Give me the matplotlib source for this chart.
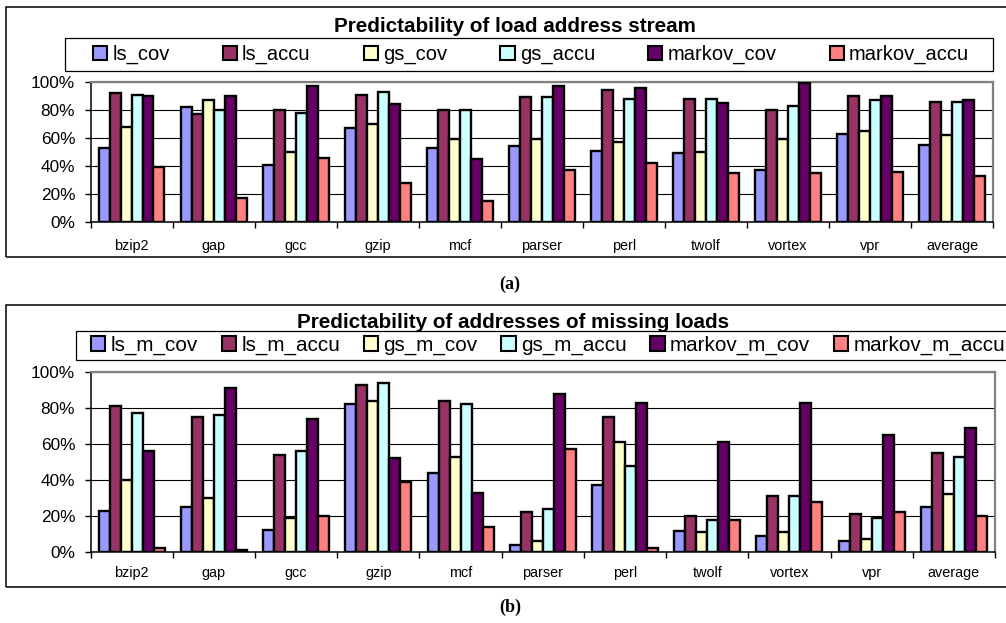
import matplotlib
matplotlib.use("Agg")
import matplotlib.pyplot as plt
from matplotlib.patches import Rectangle, Patch
import numpy as np

plt.rcParams['font.family'] = ['Liberation Sans', 'DejaVu Sans']

categories = ['bzip2', 'gap', 'gcc', 'gzip', 'mcf', 'parser', 'perl', 'twolf', 'vortex', 'vpr', 'average']

# (a) Predictability of load address stream (%)
ls_cov      = [53, 82, 41, 67, 53, 54, 51, 49, 37, 63, 55]
ls_accu     = [92, 77, 80, 91, 80, 89, 94, 88, 80, 90, 86]
gs_cov      = [68, 87, 50, 70, 59, 59, 57, 50, 59, 65, 62]
gs_accu     = [91, 80, 78, 93, 80, 89, 88, 88, 83, 87, 86]
markov_cov  = [90, 90, 97, 84, 45, 97, 96, 85, 99, 90, 87]
markov_accu = [39, 17, 46, 28, 15, 37, 42, 35, 35, 36, 33]
series_a_names = ['ls_cov', 'ls_accu', 'gs_cov', 'gs_accu', 'markov_cov', 'markov_accu']
series_a = [ls_cov, ls_accu, gs_cov, gs_accu, markov_cov, markov_accu]

# (b) Predictability of addresses of missing loads (%)
ls_m_cov      = [23, 25, 12, 82, 44, 4, 37, 11.5, 9, 6, 25]
ls_m_accu     = [81, 75, 54, 93, 84, 22, 75, 20, 31, 21, 55]
gs_m_cov      = [40, 30, 19, 84, 53, 6, 61, 11, 11, 7, 32]
gs_m_accu     = [77, 76, 56, 94, 82, 24, 48, 18, 31, 19, 53]
markov_m_cov  = [56, 91, 74, 52, 33, 88, 83, 61, 83, 65, 69]
markov_m_accu = [2, 1, 20, 39, 14, 57, 2, 18, 28, 22, 20]
series_b_names = ['ls_m_cov', 'ls_m_accu', 'gs_m_cov', 'gs_m_accu', 'markov_m_cov', 'markov_m_accu']
series_b = [ls_m_cov, ls_m_accu, gs_m_cov, gs_m_accu, markov_m_cov, markov_m_accu]

yticks = [0, 20, 40, 60, 80, 100]
ytick_labels = ['0%', '20%', '40%', '60%', '80%', '100%']

colors = ['#9999FF', '#993366', '#FFFFCC', '#CCFFFF', '#660066', '#FF8080']

W, H = 1006, 623
fig = plt.figure(figsize=(W / 100, H / 100), dpi=100)


def fx(x):
    return x / W


def fy(y):
    return 1 - y / H


def frame(x0, y0, x1, y1, lw=1.1, fc='none', z=1):
    r = Rectangle((fx(x0), fy(y1)), fx(x1) - fx(x0), fy(y0) - fy(y1),
                  transform=fig.transFigure, facecolor=fc, edgecolor='black',
                  linewidth=lw, zorder=z, clip_on=False)
    fig.add_artist(r)


def draw_chart(left, top, right, bottom, names, series, title, title_x, title_y,
               leg_box, leg_span, leg_y, leg_fs, xlab_pad):
    ax = fig.add_axes([fx(left), fy(bottom), fx(right) - fx(left), fy(top) - fy(bottom)])
    n = len(series)
    bw = 0.1338
    x = np.arange(len(categories))
    for j, (vals, c) in enumerate(zip(series, colors)):
        ax.bar(x + (j - (n - 1) / 2) * bw, vals, width=bw, color=c,
               edgecolor='black', linewidth=1.7, zorder=3)
    ax.set_xlim(-0.5, len(categories) - 0.5)
    ax.set_ylim(0, 100)
    ax.set_yticks(yticks)
    ax.set_yticklabels(ytick_labels, fontsize=12.4)
    ax.set_xticks(x)
    ax.set_xticklabels(categories, fontsize=10.4)
    ax.set_xticks(np.arange(len(categories) + 1) - 0.5, minor=True)
    ax.tick_params(axis='x', which='major', length=0, pad=xlab_pad)
    ax.tick_params(axis='x', which='minor', length=4, width=1, direction='out', color='black')
    ax.tick_params(axis='y', length=4, width=1, direction='out', pad=7)
    ax.yaxis.grid(True, color='black', linewidth=0.8)
    ax.set_axisbelow(True)
    for s in ['left', 'bottom']:
        ax.spines[s].set_color('black')
        ax.spines[s].set_linewidth(1.1)
    for s in ['top', 'right']:
        ax.spines[s].set_color('#808080')
        ax.spines[s].set_linewidth(1.6)
    ax.set_facecolor('white')

    fig.text(fx(title_x), fy(title_y), title, ha='center', va='center',
             fontsize=14.9, fontweight='bold', zorder=3)
    # legend box
    frame(leg_box[0], leg_box[1], leg_box[2], leg_box[3], lw=0.9, fc='white', z=4)
    handles = [Patch(facecolor=c, edgecolor='black', linewidth=1.5) for c in colors]
    x0, x1 = leg_span
    leg = fig.legend(handles, names, ncol=6, mode='expand', loc='center',
                     bbox_to_anchor=(fx(x0), fy(leg_y) - 0.02, fx(x1) - fx(x0), 0.04),
                     bbox_transform=fig.transFigure, frameon=False, fontsize=leg_fs,
                     handlelength=0.7, handleheight=0.7, handletextpad=0.25,
                     borderpad=0, borderaxespad=0, columnspacing=1.0)
    leg.set_zorder(5)
    return ax


# outer frames
frame(6, 7, 1015, 257, lw=1.1)
frame(6, 305, 1015, 587, lw=1.1)

draw_chart(90.5, 82, 993, 222, series_a_names, series_a,
           'Predictability of load address stream', 515, 26.5,
           (65, 38, 993, 71), (93, 969), 54.5, 14.5, 12)
draw_chart(90.5, 372, 995, 552, series_b_names, series_b,
           'Predictability of addresses of missing loads', 513, 322,
           (76, 331, 1015, 360), (91, 1005), 345.5, 14.9, 10)

fig.text(fx(510), fy(284), '(a)', ha='center', va='center', fontsize=13,
         fontweight='bold', family=['Liberation Serif', 'DejaVu Serif'])
fig.text(fx(510), fy(607), '(b)', ha='center', va='center', fontsize=13,
         fontweight='bold', family=['Liberation Serif', 'DejaVu Serif'])

fig.savefig('out.png', dpi=100)
